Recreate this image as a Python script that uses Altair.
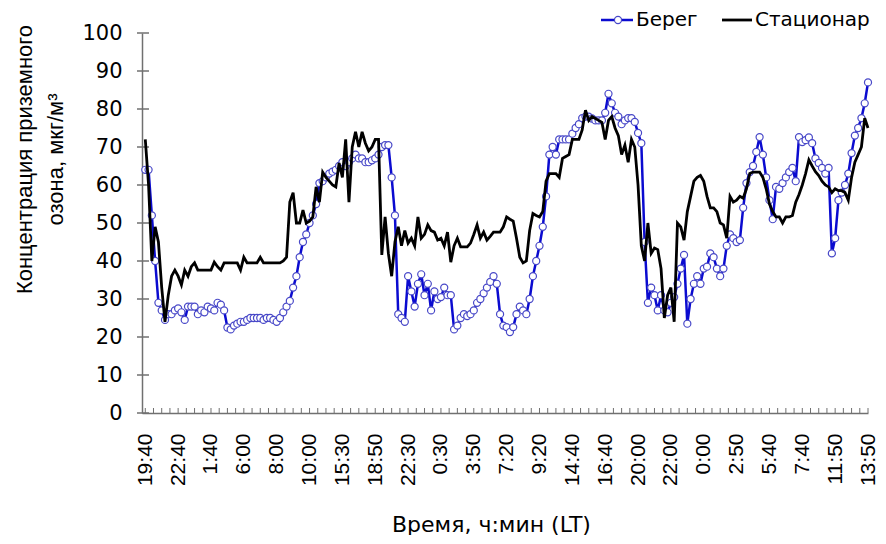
import altair as alt
import pandas as pd

# ---------------- data ----------------
time_labels = ["19:40", "22:40", "1:40", "6:00", "8:00", "10:00", "15:30", "18:50",
               "22:30", "0:30", "3:50", "7:20", "9:20", "14:40", "16:40", "20:00",
               "22:00", "0:00", "2:50", "5:40", "7:40", "11:50", "13:50"]
series_names = ["Берег", "Стационар"]

bereg = [
    64, 64, 52, 40, 29, 27, 24.5, 26, 26, 27,
    27.5, 26.5, 24.5, 28, 28, 28, 26, 27, 26.5, 28,
    27.5, 27, 29, 28.5, 27, 22.5, 22, 23, 23.5, 24,
    24, 24.5, 25, 25, 25, 25, 24.5, 25, 25, 24.5,
    24, 25, 26.5, 28, 29.5, 33, 36, 41, 45, 47,
    50, 52, 55, 60.5, 61, 62, 63, 63.5, 64, 65,
    66, 65, 66, 67, 68, 67, 67, 66, 66, 66.5,
    67, 68, 70, 70.5, 70.5, 62, 52, 26, 25, 24,
    36, 32, 28, 34, 36.5, 31, 34, 27, 32, 30,
    30.5, 33, 31, 31, 22, 23, 25, 26, 25.5, 26,
    27, 29, 30, 31.5, 33, 34.5, 36, 34, 26, 23,
    22.6, 21.3, 22.6, 26, 28, 27, 26, 30, 36, 40,
    44, 49, 57, 68, 70, 68, 72, 72, 72, 72,
    73.5, 75, 76, 77.6, 78, 78, 77.5, 77, 77, 77,
    79, 84, 81.5, 79, 78, 76, 77, 77.6, 77.6, 76.6,
    73.7, 71, 45, 29, 33, 31, 27, 31, 27, 26.5,
    29, 30.5, 34, 38, 41.6, 23.5, 30, 34, 36, 34,
    38, 38.5, 42, 41, 38, 36, 38, 44, 47, 46,
    45, 45.5, 54, 60.5, 63.4, 65, 68.7, 72.6, 68, 62,
    56, 51, 59.5, 59, 60.5, 62, 63.4, 64.5, 61, 72.6,
    71.3, 71.8, 72.5, 71, 67, 65.8, 64.5, 63, 64.5, 42,
    46, 56, 58, 60, 63, 68.4, 73, 75, 77.6, 81.5, 87,
]

stacionar = [
    72, 60, 40, 49, 45, 33, 24, 31, 36, 37.6,
    36, 33.7, 37.6, 36, 38.5, 39.5, 37.6, 37.6, 37.6, 37.6,
    37.6, 39.7, 38.5, 37.6, 39.5, 39.5, 39.5, 39.5, 39.5, 37.6,
    41, 39.5, 39.5, 39.5, 39.5, 41, 39.5, 39.5, 39.5, 39.5,
    39.5, 39.5, 40, 41, 55.5, 58, 50, 50, 53.4, 50,
    50.5, 51.6, 59.5, 55.5, 63.4, 62, 61, 60, 59.5, 65.8,
    62, 72, 55.5, 70, 74, 70, 74, 71, 69, 70,
    72, 72, 41.6, 51.6, 42, 36, 45, 49, 44, 48,
    44.7, 46, 44, 51.6, 46, 47, 49.5, 48, 47.6, 45.5,
    46, 44, 47.6, 39.7, 44, 46, 43.7, 43.7, 43.7, 44.7,
    47, 49.5, 46, 47.6, 45.5, 46.5, 47.6, 47.6, 47.6, 49,
    51.6, 51, 50.5, 46, 41, 39.5, 40, 48, 52.5, 52,
    51.6, 53, 61, 63, 63, 63, 62, 67, 67.5, 68,
    72, 72, 72, 74.5, 79.7, 77, 78, 77.5, 77, 76.5,
    72, 77, 78, 75, 73, 68, 70.5, 66, 72, 70,
    60, 44, 40, 50, 42, 43.4, 43, 38, 25, 31,
    33, 24, 50, 49, 45.5, 53, 57, 61, 62, 62.5,
    61, 57, 54, 54, 53, 50, 49.5, 46, 57, 55.5,
    56, 57, 56.5, 59, 63, 63.4, 63.4, 63.4, 62, 59,
    55, 53, 51.6, 51.6, 50, 51.6, 51.6, 52, 55.5, 57.5,
    60, 63, 66.6, 65, 63.5, 62.5, 61, 60, 59.5, 58,
    59, 58.5, 58.5, 58, 56, 62, 66, 68, 70, 77.6, 75,
]

y_ticks = list(range(0, 101, 10))
label_every = 10      # categories between labelled ticks
tick_every = 2.5      # categories between minor tick marks

# ---------------- chart ----------------
n = len(bereg)
df = pd.DataFrame({"i": list(range(n)), "bereg": bereg, "stac": stacionar})

W, H = 726, 380
BLUE = "#0b0bd0"
CIRC = "#4848c8"
AXIS = "#707070"

xscale = alt.Scale(domain=[-1.0, n - 1], nice=False, zero=False)
yscale = alt.Scale(domain=[0, 100], nice=False)

label_expr = ("[" + ",".join("'%s'" % t for t in time_labels) + "]"
              "[round(datum.value/%d)]" % label_every)

x_axis = alt.Axis(
    values=[k * label_every for k in range(len(time_labels))],
    labelExpr=label_expr, labelAngle=270, labelFont="Liberation Sans",
    labelFontSize=21, labelColor="#000", labelPadding=20, labelOverlap=False,
    labelFlush=False, ticks=False, domainColor=AXIS, domainWidth=1.5, grid=False,
    title="Время, ч:мин (LT)", titleFont="DejaVu Sans", titleFontSize=22,
    titleFontWeight="normal", titleColor="#000", titleX=349, titleY=118,
    titleAlign="center", titleBaseline="alphabetic",
)
y_axis = alt.Axis(
    values=y_ticks, labelFont="DejaVu Sans", labelFontSize=21, labelColor="#000",
    labelPadding=20, ticks=False, domainColor=AXIS, domainWidth=1.5, grid=False,
    title=["Концентрация приземного", "озона, мкг/м³"], titleFont="Liberation Sans",
    titleFontSize=22, titleFontWeight="normal", titleColor="#000", titleAngle=270,
    titleAlign="center", titleBaseline="top", titleX=-128, titleY=126,
    titleLineHeight=31,
)


def X(field):
    return alt.X(field, type="quantitative", scale=xscale, axis=x_axis)


def Y(field):
    return alt.Y(field, type="quantitative", scale=yscale, axis=y_axis)


base = alt.Chart(df)

blue_line = base.mark_line(color=BLUE, strokeWidth=2.5).encode(x=X("i"), y=Y("bereg"))
blue_pts = base.mark_circle(fill="white", stroke=CIRC, strokeWidth=1.2, size=50,
                            opacity=1).encode(x=X("i"), y=Y("bereg"))
black_line = base.mark_line(color="black", strokeWidth=2.8).encode(x=X("i"), y=Y("stac"))

ytick_layer = alt.Chart(pd.DataFrame({"v": y_ticks})).mark_rule(
    color=AXIS, strokeWidth=1.5).encode(
    y=Y("v"), x=alt.value(-5), x2=alt.value(7),
)
n_minor = int((n - 1) / tick_every) + 1
xtick_layer = alt.Chart(pd.DataFrame({"t": [k * tick_every for k in range(n_minor)]})).mark_rule(
    color=AXIS, strokeWidth=1).encode(
    x=X("t"), y=alt.value(H), y2=alt.value(H - 5),
)

# legend (top right)
LY = -13


def one(name):
    return alt.Chart(pd.DataFrame({"name": [name]}))


leg = [
    one(series_names[0]).mark_rule(color=BLUE, strokeWidth=2.5).encode(
        x=alt.value(459), x2=alt.value(491), y=alt.value(LY)),
    one(series_names[0]).mark_circle(fill="white", stroke=CIRC, strokeWidth=1.2,
                                     size=50, opacity=1).encode(
        x=alt.value(476), y=alt.value(LY)),
    one(series_names[0]).mark_text(align="left", baseline="middle", font="DejaVu Sans",
                                   fontSize=20, color="black").encode(
        x=alt.value(494), y=alt.value(LY), text="name:N"),
    one(series_names[1]).mark_rule(color="black", strokeWidth=2.8).encode(
        x=alt.value(580), x2=alt.value(610), y=alt.value(LY)),
    one(series_names[1]).mark_text(align="left", baseline="middle", font="DejaVu Sans",
                                   fontSize=20, color="black").encode(
        x=alt.value(613), y=alt.value(LY), text="name:N"),
]

chart = alt.layer(
    blue_line, ytick_layer, xtick_layer, blue_pts, black_line, *leg
).properties(
    width=W, height=H,
    padding={"left": 134, "top": 25, "right": 10, "bottom": 122},
    autosize=alt.AutoSizeParams(type="none"),
    background="white",
).configure_view(stroke=None)

chart.save("out.html", embed_options={"renderer": "svg", "actions": False})
